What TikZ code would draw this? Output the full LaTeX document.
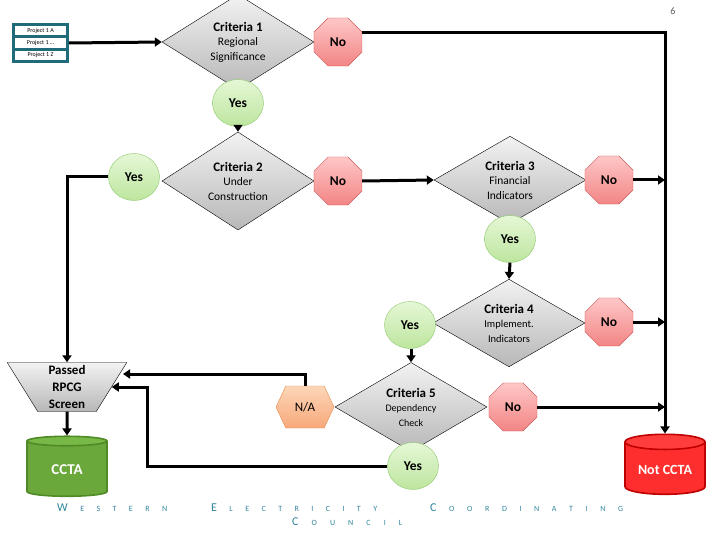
\documentclass[tikz,border=0pt]{standalone}
\usepackage{fontspec}
\setmainfont{Carlito}
\usepackage{tikz}
\usetikzlibrary{arrows.meta}
\usetikzlibrary{shapes.geometric}
\usetikzlibrary{shapes.symbols}
\usetikzlibrary{shapes.multipart}
\usetikzlibrary{calc}
\definecolor{critlight}{rgb}{0.95,0.95,0.95}
\definecolor{critdark}{rgb}{0.72,0.72,0.72}
\definecolor{nolight}{rgb}{1,0.78,0.78}
\definecolor{nodark}{rgb}{0.95,0.52,0.52}
\definecolor{nodraw}{rgb}{0.80,0.35,0.35}
\definecolor{yeslight}{rgb}{0.90,0.97,0.84}
\definecolor{yesdark}{rgb}{0.74,0.90,0.62}
\definecolor{yesdraw}{rgb}{0.55,0.78,0.42}
\definecolor{nalight}{rgb}{0.99,0.84,0.72}
\definecolor{nadark}{rgb}{0.97,0.66,0.48}
\definecolor{nadraw}{rgb}{0.90,0.55,0.32}
\definecolor{cctabody}{rgb}{0.42,0.66,0.23}
\definecolor{cctatop}{rgb}{0.47,0.72,0.28}
\definecolor{cctadraw}{rgb}{0.31,0.54,0.15}
\definecolor{notbody}{rgb}{1,0.18,0.18}
\definecolor{nottop}{rgb}{1,0.24,0.24}
\definecolor{notdraw}{rgb}{0.75,0,0}
\definecolor{projteal}{rgb}{0.12,0.42,0.48}
\definecolor{wecc}{rgb}{0.19,0.52,0.61}

\begin{document}
\begin{tikzpicture}[x=1pt,y=-1pt,
  crit/.style={diamond,draw=black,line width=0.4pt,top color=critlight,bottom color=critdark,
    minimum width=152,minimum height=73,inner sep=0pt,align=center,
    font=\fontsize{11.5}{14.5}\selectfont},
  nobox/.style={regular polygon,regular polygon sides=8,minimum size=52,inner sep=0pt,
    draw=nodraw,top color=nolight,bottom color=nodark,font=\bfseries\fontsize{13.5}{14}\selectfont},
  yesbox/.style={ellipse,minimum width=51,minimum height=47,inner sep=0pt,
    draw=yesdraw,top color=yeslight,bottom color=yesdark,font=\bfseries\fontsize{13.5}{14}\selectfont},
  flow/.style={line width=3pt,-{Triangle[length=7pt,width=9pt]}},
  footer/.style={text=wecc,inner sep=0pt,anchor=base west,font=\fontsize{8}{9}\selectfont}
]
\useasboundingbox (0,0) rectangle (720,540);
\node[text=black!65,font=\fontsize{10}{11}\selectfont] (page) at (673,11) {6};
% projects
\node[rectangle split,rectangle split parts=3,draw=projteal,line width=2.8pt,fill=white,
  minimum width=54,inner ysep=2.2pt,font=\fontsize{6}{7}\selectfont] (projects) at (40.5,43)
  {Project 1 A\nodepart{two}Project 1 \dots\nodepart{three}Project 1 Z};
% criteria column
\node[crit] (c1) at (238,42) {{\bfseries\fontsize{13}{15}\selectfont Criteria 1}\\Regional\\Significance};
\node[nobox] (no1) at (338,42) {No};
\node[yesbox] (yes1) at (238,103) {Yes};
\node[crit] (c2) at (238,181) {{\bfseries\fontsize{13}{15}\selectfont Criteria 2}\\Under\\Construction};
\node[yesbox] (yes2) at (134,177) {Yes};
\node[nobox] (no2) at (338,181) {No};
\node[crit] (c3) at (510,180) {{\bfseries\fontsize{13}{15}\selectfont Criteria 3}\\Financial\\Indicators};
\node[nobox] (no3) at (609,180) {No};
\node[yesbox] (yes3) at (510,239) {Yes};
\node[crit] (c4) at (509,323) {{\bfseries\fontsize{13}{15}\selectfont Criteria 4}\\{\fontsize{10.5}{13.5}\selectfont Implement.}\\{\fontsize{10.5}{13.5}\selectfont Indicators}};
\node[nobox] (no4) at (609,322) {No};
\node[yesbox] (yes4) at (410,325) {Yes};
\node[crit] (c5) at (411,407) {{\bfseries\fontsize{13}{15}\selectfont Criteria 5}\\{\fontsize{10}{12.5}\selectfont Dependency}\\{\fontsize{10}{12.5}\selectfont Check}};
\node[signal,signal to=west and east,signal pointer angle=130,minimum width=58,minimum height=42,
  inner sep=0pt,draw=nadraw,top color=nalight,bottom color=nadark,font=\fontsize{13}{14}\selectfont] (na) at (305,407) {N/A};
\node[nobox] (no5) at (513,407) {No};
\node[yesbox] (yes5) at (413,466) {Yes};
% screen and results
\node[trapezium,shape border rotate=180,trapezium angle=66,trapezium stretches=true,
  minimum width=120,minimum height=49,inner sep=0pt,draw=black,line width=0.4pt,
  top color=critlight,bottom color=critdark,align=center,
  font=\bfseries\fontsize{13}{17}\selectfont] (passed) at (67,387) {Passed\\RPCG\\Screen};
\node[cylinder,shape border rotate=90,aspect=0.25,minimum width=80,minimum height=60,
  cylinder uses custom fill,cylinder body fill=cctabody,cylinder end fill=cctatop,
  draw=cctadraw,line width=1.6pt,text=white,font=\bfseries\fontsize{15}{16}\selectfont] (ccta) at (67,470) {CCTA};
\node[cylinder,shape border rotate=90,aspect=0.25,minimum width=80,minimum height=60,
  cylinder uses custom fill,cylinder body fill=notbody,cylinder end fill=nottop,
  draw=notdraw,line width=1.6pt,text=white,font=\bfseries\fontsize{14}{15}\selectfont] (notccta) at (665,470) {Not CCTA};
% connectors
\draw[flow] (projects.east) -- (c1.west);
\draw[flow] ($(no1.east)+(0,-9)$) -| (notccta.north);
\draw[flow] (yes1.south) -- (c2.north);
\draw[flow] (no2.east) -- (c3.west);
\draw[flow] (no3.east) -- (no3.east -| notccta.north);
\draw[flow] (yes3.south) -- (c4.north);
\draw[flow] (no4.east) -- (no4.east -| notccta.north);
\draw[flow] (yes4.south -| c5.north) -- (c5.north);
\draw[flow] (no5.east) -- (no5.east -| notccta.north);
\draw[flow] (yes2.west) -| (passed.north);
\coordinate (passin) at (123,374);
\draw[flow] (na.north) |- (passin);
\draw[flow] (yes5.west) -| ($(passed.east)+(36,0)$) -- (passed.east);
\draw[flow] (passed.south) -- (ccta.north);
% footer
\node[footer] (fwestern) at (57,511) {\makebox[110pt][s]{{\fontsize{12}{12}\selectfont W}\hfil E\hfil S\hfil T\hfil E\hfil R\hfil N}};
\node[footer] (felectricity) at (211,511) {\makebox[166pt][s]{{\fontsize{12}{12}\selectfont E}\hfil L\hfil E\hfil C\hfil T\hfil R\hfil I\hfil C\hfil I\hfil T\hfil Y}};
\node[footer] (fcoordinating) at (430,511) {\makebox[193pt][s]{{\fontsize{12}{12}\selectfont C}\hfil O\hfil O\hfil R\hfil D\hfil I\hfil N\hfil A\hfil T\hfil I\hfil N\hfil G}};
\node[footer] (fcouncil) at (292,525) {\makebox[110pt][s]{{\fontsize{12}{12}\selectfont C}\hfil O\hfil U\hfil N\hfil C\hfil I\hfil L}};
\end{tikzpicture}
\end{document}
